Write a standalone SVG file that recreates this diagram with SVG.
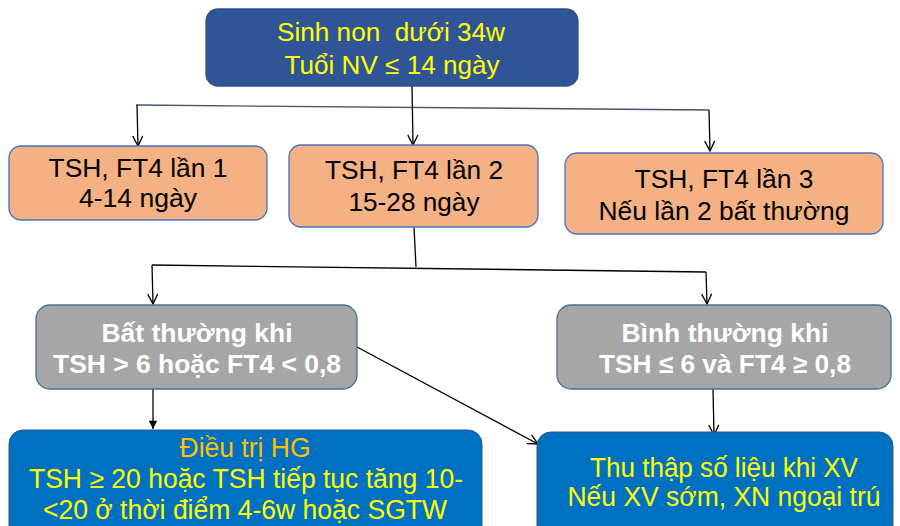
<svg xmlns="http://www.w3.org/2000/svg" width="900" height="526" viewBox="0 0 900 526">
<defs>
<marker id="arr" viewBox="0 0 12 12" refX="11" refY="6" markerWidth="12" markerHeight="12" markerUnits="userSpaceOnUse" orient="auto">
<polyline points="1,1 11,6 1,11" fill="none" stroke="#000" stroke-width="1.3"/>
</marker>
<marker id="arrs" viewBox="0 0 12 12" refX="11" refY="6" markerWidth="10" markerHeight="10" markerUnits="userSpaceOnUse" orient="auto">
<path d="M1,1 L11,6 L1,11 Z" fill="#000"/>
</marker>
</defs>
<style>
text{font-family:"Liberation Sans",Arial,sans-serif;text-anchor:middle;white-space:pre}
.top{fill:#2F5597;stroke:#2F528F;stroke-width:1.3}
.org{fill:#F4B183;stroke:#4472C4;stroke-width:1.3}
.gry{fill:#A6A6A6;stroke:#41719C;stroke-width:1.3}
.blu{fill:#0070C0;stroke:#2F5597;stroke-width:1}
.y{fill:#FFFF00}
.o{fill:#FFC000}
.k{fill:#000}
.w{fill:#FFFFFF;font-weight:bold}
.c{fill:none;stroke:#000;stroke-width:1.3}
.h{fill:none;stroke:#44546A;stroke-width:1.3}
</style>
<rect width="900" height="526" fill="#FFFFFF"/>
<g id="connectors">
<line class="h" x1="136" y1="105" x2="709" y2="110"/>
<line class="c" x1="412" y1="86" x2="413" y2="145" marker-end="url(#arr)"/>
<line class="c" x1="137" y1="105" x2="138" y2="146" marker-end="url(#arr)"/>
<line class="c" x1="709" y1="110" x2="710" y2="151" marker-end="url(#arr)"/>
<line class="c" x1="414" y1="227" x2="416" y2="267"/>
<line class="c" x1="152" y1="265" x2="706" y2="272"/>
<line class="c" x1="152" y1="265" x2="153" y2="304" marker-end="url(#arr)"/>
<line class="c" x1="706" y1="272" x2="707" y2="304" marker-end="url(#arr)"/>
<line class="c" x1="153" y1="389" x2="153" y2="429" marker-end="url(#arrs)"/>
<line class="c" x1="713" y1="389" x2="714" y2="435" marker-end="url(#arr)"/>
<line class="c" x1="357" y1="347" x2="538" y2="444" marker-end="url(#arr)"/>
</g>
<g id="n-top">
<rect class="top" x="206" y="9" width="372" height="77" rx="12"/>
<text class="y" x="391" y="41" font-size="25.5" textLength="228" lengthAdjust="spacingAndGlyphs">Sinh non  dưới 34w</text>
<text class="y" x="392" y="74" font-size="25.5" textLength="215" lengthAdjust="spacingAndGlyphs">Tuổi NV ≤ 14 ngày</text>
</g>
<g id="n-lan1">
<rect class="org" x="9" y="146" width="258" height="74" rx="12"/>
<text class="k" x="138" y="177" font-size="25" textLength="179" lengthAdjust="spacingAndGlyphs">TSH, FT4 lần 1</text>
<text class="k" x="138" y="207" font-size="25" textLength="118" lengthAdjust="spacingAndGlyphs">4-14 ngày</text>
</g>
<g id="n-lan2">
<rect class="org" x="289" y="145" width="249" height="82" rx="12"/>
<text class="k" x="414" y="179" font-size="25" textLength="178" lengthAdjust="spacingAndGlyphs">TSH, FT4 lần 2</text>
<text class="k" x="414" y="211" font-size="25" textLength="131" lengthAdjust="spacingAndGlyphs">15-28 ngày</text>
</g>
<g id="n-lan3">
<rect class="org" x="565" y="153" width="318" height="81" rx="12"/>
<text class="k" x="724" y="188" font-size="25" textLength="179" lengthAdjust="spacingAndGlyphs">TSH, FT4 lần 3</text>
<text class="k" x="724" y="220" font-size="25" textLength="251" lengthAdjust="spacingAndGlyphs">Nếu lần 2 bất thường</text>
</g>
<g id="n-batthuong">
<rect class="gry" x="36" y="305" width="321" height="84" rx="14"/>
<text class="w" x="197" y="342" font-size="26" textLength="191" lengthAdjust="spacingAndGlyphs">Bất thường khi</text>
<text class="w" x="197" y="373" font-size="26" textLength="288" lengthAdjust="spacingAndGlyphs">TSH &gt; 6 hoặc FT4 &lt; 0,8</text>
</g>
<g id="n-binhthuong">
<rect class="gry" x="557" y="305" width="334" height="84" rx="14"/>
<text class="w" x="725" y="342" font-size="26" textLength="207" lengthAdjust="spacingAndGlyphs">Bình thường khi</text>
<text class="w" x="725" y="373" font-size="26" textLength="252" lengthAdjust="spacingAndGlyphs">TSH ≤ 6 và FT4 ≥ 0,8</text>
</g>
<g id="n-dieutri">
<rect class="blu" x="9" y="430" width="473" height="110" rx="14"/>
<text class="o" x="245" y="457" font-size="27" textLength="131" lengthAdjust="spacingAndGlyphs">Điều trị HG</text>
<text class="y" x="246" y="488" font-size="27" textLength="434" lengthAdjust="spacingAndGlyphs">TSH ≥ 20 hoặc TSH tiếp tục tăng 10-</text>
<text class="y" x="245" y="519" font-size="27" textLength="404" lengthAdjust="spacingAndGlyphs">&lt;20 ở thời điểm 4-6w hoặc SGTW</text>
</g>
<g id="n-thuthap">
<rect class="blu" x="537" y="432" width="356" height="110" rx="14"/>
<text class="y" x="724" y="477" font-size="27" textLength="268" lengthAdjust="spacingAndGlyphs">Thu thập số liệu khi XV</text>
<text class="y" x="724" y="506" font-size="27" textLength="313" lengthAdjust="spacingAndGlyphs">Nếu XV sớm, XN ngoại trú</text>
</g>
</svg>
